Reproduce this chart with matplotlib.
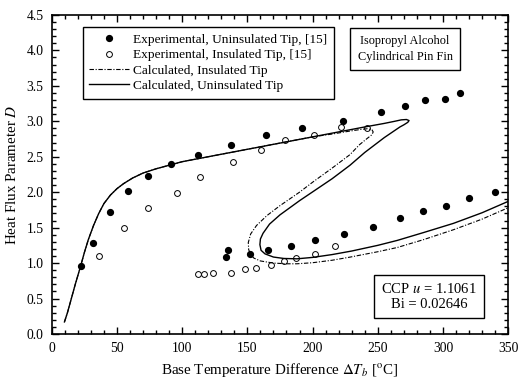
import numpy as np
import matplotlib.pyplot as plt
from matplotlib.ticker import MultipleLocator, FormatStrFormatter

plt.rcParams['font.family'] = ['Liberation Serif', 'DejaVu Serif']
plt.rcParams['mathtext.fontset'] = 'stix'

# Experimental, uninsulated tip (filled)
unins_x = [22.5, 31.5, 44.8, 58.3, 73.7, 91.6, 111.8, 137.4, 164.5, 192.1, 223.6, 252.5,
           271.2, 286.0, 301.6, 313.1,
           133.8, 135.3, 152.2, 165.8, 183.7, 201.6, 223.9, 246.1, 267.3, 285.0, 302.1, 320.0, 340.2]
unins_y = [0.96, 1.29, 1.72, 2.02, 2.23, 2.40, 2.53, 2.67, 2.81, 2.90, 3.01, 3.13,
           3.22, 3.30, 3.32, 3.40,
           1.08, 1.19, 1.13, 1.19, 1.24, 1.32, 1.41, 1.51, 1.63, 1.73, 1.80, 1.92, 2.00]

# Experimental, insulated tip (open)
ins_x = [36.1, 55.0, 73.7, 95.9, 113.9, 138.7, 160.5, 178.8, 201.2, 221.6, 241.5,
         112.3, 116.7, 123.3, 137.6, 147.9, 156.8, 167.8, 178.3, 187.3, 201.6, 217.4]
ins_y = [1.10, 1.50, 1.78, 1.99, 2.21, 2.43, 2.59, 2.74, 2.81, 2.92, 2.90,
         0.85, 0.85, 0.865, 0.865, 0.91, 0.935, 0.97, 1.025, 1.07, 1.13, 1.24]

# Calculated, uninsulated tip (solid)
calc_u_x = [9.7, 12, 15, 18, 22, 25, 28, 32, 36, 40, 45, 50, 55, 62, 70, 80, 90, 100,
            120, 140, 160, 180, 200, 220, 240, 255, 263, 268, 272, 274, 273, 270, 267,
            255, 240, 228.7, 215, 200.5, 190, 175, 167, 162, 160, 159.6, 160.5, 163.5,
            170, 178, 188, 200, 215, 230, 250, 265, 285, 308, 330, 350]
calc_u_y = [0.17, 0.30, 0.50, 0.70, 0.95, 1.15, 1.33, 1.53, 1.70, 1.84, 1.96, 2.05, 2.12,
            2.20, 2.27, 2.33, 2.38, 2.43, 2.50, 2.57, 2.64, 2.71, 2.78, 2.85, 2.92, 2.97,
            3.00, 3.02, 3.025, 3.01, 2.985, 2.95, 2.92, 2.77, 2.56, 2.38, 2.19, 2.01, 1.88,
            1.68, 1.55, 1.42, 1.34, 1.26, 1.18, 1.13, 1.085, 1.065, 1.06, 1.08, 1.12, 1.17,
            1.25, 1.32, 1.43, 1.56, 1.71, 1.87]

# Calculated, insulated tip (dash-dot)
calc_i_x = [9.7, 12, 15, 18, 22, 25, 28, 32, 36, 40, 45, 50, 55, 62, 70, 80, 90, 100,
            120, 140, 160, 180, 200, 215, 228, 237, 242, 245.5, 246.5, 245.5, 242, 236,
            228.7, 215, 200, 190, 175, 165, 157, 152.5, 150.7, 151, 152.5, 155, 160, 170,
            180, 188, 200, 215, 229, 250, 265, 285, 308, 330, 350]
calc_i_y = [0.17, 0.30, 0.50, 0.70, 0.95, 1.15, 1.33, 1.53, 1.70, 1.84, 1.96, 2.05, 2.12,
            2.20, 2.27, 2.33, 2.38, 2.43, 2.50, 2.57, 2.64, 2.71, 2.78, 2.82, 2.86, 2.885,
            2.895, 2.88, 2.85, 2.81, 2.76, 2.67, 2.53, 2.34, 2.14, 2.00, 1.81, 1.67, 1.53,
            1.41, 1.29, 1.19, 1.12, 1.07, 1.03, 1.00, 0.99, 0.99, 1.005, 1.04, 1.085, 1.16,
            1.22, 1.33, 1.47, 1.62, 1.78]

fig = plt.figure(figsize=(5.18, 3.83), dpi=100)
ax = fig.add_axes([0.100, 0.128, 0.881, 0.833])

ax.plot(unins_x, unins_y, 'o', color='black', markersize=4.2, linestyle='none',
        label='Experimental, Uninsulated Tip, [15]')
ax.plot(ins_x, ins_y, 'o', markerfacecolor='white', markeredgecolor='black',
        markeredgewidth=0.7, markersize=4.2, linestyle='none',
        label='Experimental, Insulated Tip, [15]')
ax.plot(calc_i_x, calc_i_y, color='black', linewidth=0.8,
        dashes=[4, 1.5, 1, 1.5], label='Calculated, Insulated Tip')
ax.plot(calc_u_x, calc_u_y, color='black', linewidth=1.0,
        label='Calculated, Uninsulated Tip')

ax.set_xlim(0, 350)
ax.set_ylim(0, 4.5)
ax.xaxis.set_major_locator(MultipleLocator(50))
ax.xaxis.set_minor_locator(MultipleLocator(10))
ax.yaxis.set_major_locator(MultipleLocator(0.5))
ax.yaxis.set_minor_locator(MultipleLocator(0.1))
ax.yaxis.set_major_formatter(FormatStrFormatter('%.1f'))
ax.tick_params(which='both', direction='in', top=True, right=True, labelsize=9.8,
               width=1.0)
ax.tick_params(which='major', length=5, pad=6)
ax.tick_params(which='minor', length=3)
for s in ax.spines.values():
    s.set_linewidth(1.2)

ax.set_xlabel(r'Base Temperature Difference $\Delta T_b$ [$^{\rm o}$C]', fontsize=10.8,
              labelpad=4)
ax.set_ylabel(r'Heat Flux Parameter $D$', fontsize=10.8, labelpad=5)

leg = ax.legend(loc='upper left', bbox_to_anchor=(0.068, 0.962), fontsize=9.6,
                frameon=True, fancybox=False, edgecolor='black', framealpha=1,
                handlelength=3.0, handletextpad=0.3, labelspacing=0.22,
                borderpad=0.5, borderaxespad=0)
leg.get_frame().set_linewidth(1.0)

ax.text(271, 4.02, 'Isopropyl Alcohol\nCylindrical Pin Fin', ha='center', va='center',
        fontsize=8.8, linespacing=1.45,
        bbox=dict(boxstyle='square,pad=0.6', facecolor='white', edgecolor='black',
                  linewidth=1.0))
ax.text(289.5, 0.53, 'CCP $u$ = 1.1061\nBi = 0.02646', ha='center', va='center',
        fontsize=10.5, linespacing=1.2,
        bbox=dict(boxstyle='square,pad=0.5', facecolor='white', edgecolor='black',
                  linewidth=1.0))

fig.savefig('out.png', dpi=100)
